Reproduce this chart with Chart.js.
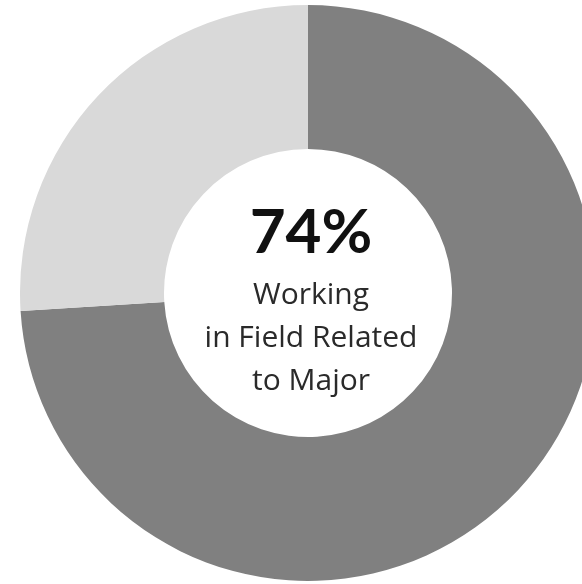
<!DOCTYPE html>
<html>
<head>
<meta charset="utf-8">
<script src="https://cdn.jsdelivr.net/npm/chart.js@4/dist/chart.umd.min.js"></script>
<style>
  html, body { margin: 0; padding: 0; background: #fff; overflow: hidden; }
  #wrap { position: absolute; left: 20px; top: 5px; width: 576px; height: 576px; }
</style>
</head>
<body>
<div id="wrap"><canvas id="fieldChart"></canvas></div>
<script>
// Share of graduates working in a field related to their major
var labels = ["Related to Major", "Not Related"];
var shares = [74, 26];
var colors = ["#808080", "#d9d9d9"];
var centerLines = ["Working", "in Field Related", "to Major"];

// writes the headline percent and caption inside the hole
var centerText = {
    id: "centerText",
    afterDraw: function(chart) {
        var ctx = chart.ctx;
        var meta = chart.getDatasetMeta(0);
        var cx = meta.data[0].x;
        var cy = meta.data[0].y;
        ctx.save();
        ctx.textAlign = "center";
        ctx.textBaseline = "alphabetic";
        ctx.fillStyle = "#111";
        ctx.font = "bold 62px Lato";
        ctx.fillText(shares[0] + "%", cx + 3, cy - 40);
        ctx.fillStyle = "#2a2a2a";
        ctx.font = "30px 'Open Sans'";
        for (var i = 0; i < centerLines.length; i++) {
            ctx.fillText(centerLines[i], cx + 3, cy + 11 + i * 43);
        }
        ctx.restore();
    }
};

new Chart(document.getElementById("fieldChart"), {
    type: "doughnut",
    data: {
        labels: labels,
        datasets: [{
            data: shares,
            backgroundColor: colors,
            borderWidth: 0
        }]
    },
    options: {
        responsive: true,
        maintainAspectRatio: false,
        animation: false,
        cutout: "50%",
        plugins: {
            legend: { display: false },
            tooltip: { enabled: false }
        }
    },
    plugins: [centerText]
});
</script>
</body>
</html>
